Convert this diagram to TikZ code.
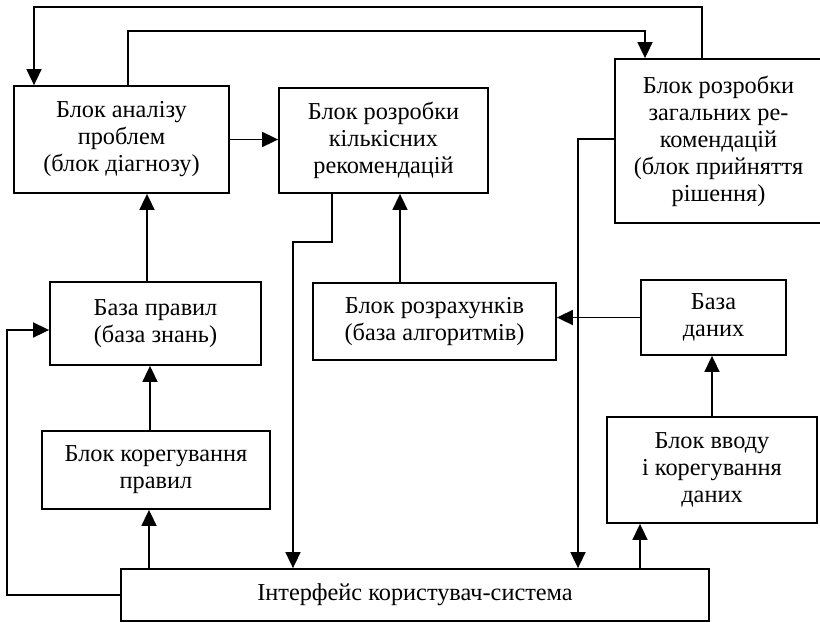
\documentclass[tikz,border=0pt]{standalone}
\usepackage{fontspec}
\setmainfont{Liberation Serif}
\usetikzlibrary{arrows.meta}
\begin{document}
\begin{tikzpicture}[x=1pt,y=-1pt,
  box/.style={draw, line width=1.8pt, inner sep=0pt, align=center,
    font=\fontsize{24.3}{27}\selectfont},
  arr/.style={line width=1.7pt, -{Triangle[length=16pt,width=15pt]}}]
\clip (0,0) rectangle (820,622);
\fill[white] (0,0) rectangle (820,622);
% boxes
\node[box, minimum width=215pt, minimum height=107pt] (A) at (121.5,139.5) {Блок аналізу\\проблем\\(блок діагнозу)};
\node[box, minimum width=209pt, minimum height=105pt] (B) at (383.5,140.5) {Блок розробки\\кількісних\\рекомендацій};
\node[box, minimum width=207pt, minimum height=164pt] (C) at (718.5,141) {Блок розробки\\загальних ре-\\комендацій\\(блок прийняття\\рішення)};
\node[box, minimum width=211pt, minimum height=83pt] (R) at (155.5,323.5) {База правил\\(база знань)};
\node[box, minimum width=228pt, minimum height=78pt] (K) at (156,470) {Блок корегування\\правил};
\node[box, minimum width=243pt, minimum height=77pt] (Z) at (434.5,321.5) {Блок розрахунків\\(база алгоритмів)};
\node[box, minimum width=145pt, minimum height=75pt] (D) at (713.5,317.5) {База\\даних};
\node[box, minimum width=210pt, minimum height=106pt] (V) at (712,470) {Блок вводу\\і корегування\\даних};
\node[box, minimum width=588pt, minimum height=52pt] (I) at (415,595) {Інтерфейс користувач-система};
% helper coordinates
\coordinate (t1) at (702,7);
\coordinate (a1) at (34,7);
\coordinate (t2) at (128,31);
\coordinate (t3) at (645,31);
\coordinate (c4) at (578,139);
\coordinate (j1) at (332,242);
\coordinate (j2) at (293,242);
\coordinate (x400) at (400,0);
\coordinate (x640) at (640,0);
\coordinate (x147) at (147,0);
\coordinate (x150) at (150,0);
\coordinate (x149) at (149,0);
\coordinate (l2) at (7,330);
% connectors
\draw[arr] (t1 |- C.north) -- (t1) -| (a1 |- A.north);
\draw[arr] (t2 |- A.north) -- (t2) -| (t3 |- C.north);
\draw[arr] (A.east) -- (A.east -| B.west);
\draw[arr] (c4 -| C.west) -- (c4) -- (c4 |- I.north);
\draw[arr] (j1 |- B.south) -- (j1) -- (j2) -- (j2 |- I.north);
\draw[arr] (x400 |- Z.north) -- (x400 |- B.south);
\draw[arr] (D.west) -- (D.west -| Z.east);
\draw[arr] (V.north) -- (V.north |- D.south);
\draw[arr] (x640 |- I.north) -- (x640 |- V.south);
\draw[arr] (x147 |- R.north) -- (x147 |- A.south);
\draw[arr] (x150 |- K.north) -- (x150 |- R.south);
\draw[arr] (x149 |- I.north) -- (x149 |- K.south);
\draw[arr] (I.west) -| (l2) -- (l2 -| R.west);
\end{tikzpicture}
\end{document}
